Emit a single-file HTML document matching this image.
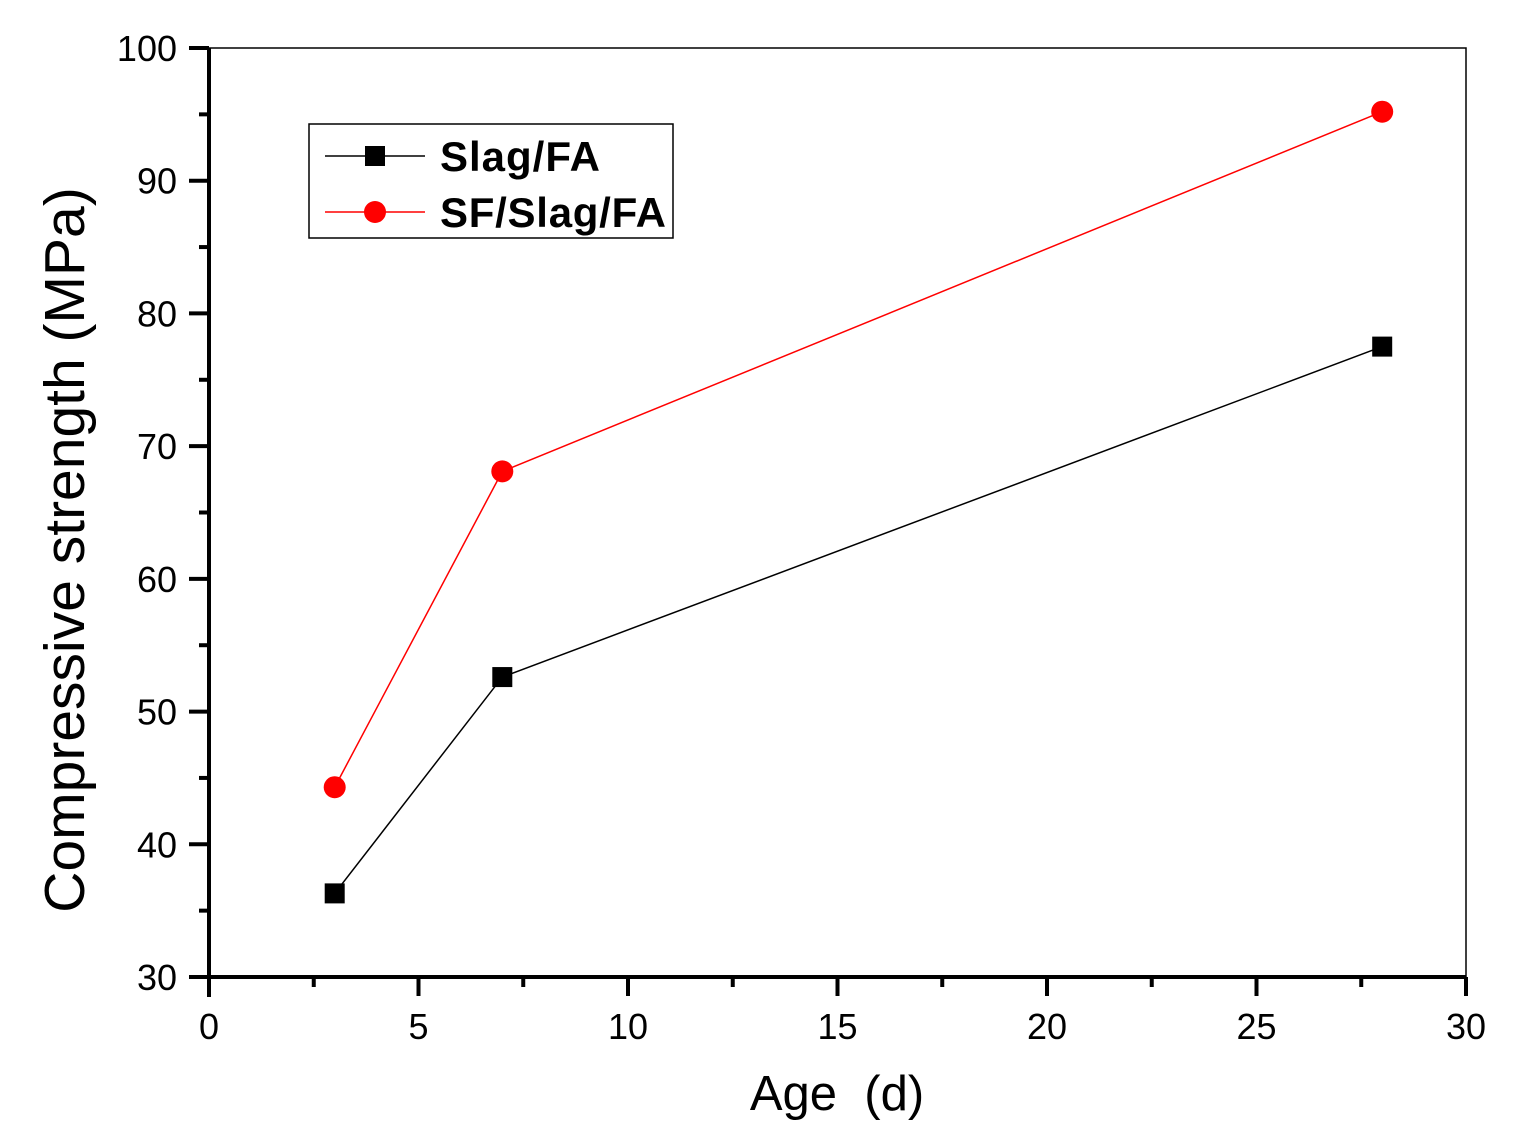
<!DOCTYPE html>
<html><head><meta charset="utf-8"><style>
html,body{margin:0;padding:0;background:#fff;}
svg text{font-family:"Liberation Sans",Arial,sans-serif;}
</style></head><body>
<svg id="chart" width="1516" height="1142" xmlns="http://www.w3.org/2000/svg">
<g id="axes"></g>
<g id="series"></g>
</svg>
<script>
const categories=[3,7,28];
const slagFA=[36.3,52.6,77.5];
const sfSlagFA=[44.3,68.1,95.2];
const xTicks=[0,5,10,15,20,25,30];
const yTicks=[30,40,50,60,70,80,90,100];
const NS="http://www.w3.org/2000/svg";
const L=209,R=1466,T=48,B=977;
const xs=v=>L+(v-0)/(30-0)*(R-L);
const ys=v=>B-(v-30)/(100-30)*(B-T);
function mk(tag,attrs,parent){const e=document.createElementNS(NS,tag);for(const k in attrs)e.setAttribute(k,attrs[k]);parent.appendChild(e);return e;}
const ax=document.getElementById('axes'),se=document.getElementById('series');
const frame=mk('rect',{x:L,y:T,width:R-L,height:B-T,fill:'none',stroke:'#000','stroke-width':1.5},ax);


const xa=mk('line',{x1:L-20,y1:B,x2:R,y2:B,stroke:'#000','stroke-width':4},ax);


const ya=mk('line',{x1:L,y1:T,x2:L,y2:B+20,stroke:'#000','stroke-width':4},ax);


xTicks.forEach((v,i)=>{
  mk('line',{x1:xs(v),y1:B,x2:xs(v),y2:B+19,stroke:'#000','stroke-width':4},ax);
  if(i<xTicks.length-1){mk('line',{x1:xs(v+2.5),y1:B,x2:xs(v+2.5),y2:B+10,stroke:'#000','stroke-width':4},ax);}
  const t=mk('text',{x:xs(v),y:B+62,'font-size':36,'text-anchor':'middle'},ax);t.textContent=v;
  
  
});
yTicks.forEach((v,i)=>{
  mk('line',{x1:L-20,y1:ys(v),x2:L,y2:ys(v),stroke:'#000','stroke-width':4},ax);
  if(i<yTicks.length-1){mk('line',{x1:L-10,y1:ys(v+5),x2:L,y2:ys(v+5),stroke:'#000','stroke-width':4},ax);}
  const t=mk('text',{x:L-32,y:ys(v)+13,'font-size':36,'text-anchor':'end'},ax);t.textContent=v;
  
  
});
const xt=mk('text',{x:837,y:1110,'font-size':49,'text-anchor':'middle'},ax);xt.textContent='Age\u00a0 (d)';


const yt=mk('text',{x:0,y:0,'font-size':57,'text-anchor':'middle',transform:'translate(84,550) rotate(-90)'},ax);yt.textContent='Compressive strength (MPa)';


function series(vals,color,shape,name){
  const pl=mk('polyline',{points:categories.map((c,i)=>xs(c)+','+ys(vals[i])).join(' '),fill:'none',stroke:color,'stroke-width':1.5},se);
  
  
  categories.forEach((c,i)=>{
    let m;
    if(shape==='sq')m=mk('rect',{x:xs(c)-10,y:ys(vals[i])-10,width:20,height:20,fill:color},se);
    else m=mk('circle',{cx:xs(c),cy:ys(vals[i]),r:11,fill:color},se);
    
    
  });
}
series(slagFA,'#000','sq','slag-fa');
series(sfSlagFA,'#ff0000','ci','sf-slag-fa');
const lg=mk('g',{},ax);


mk('rect',{x:309,y:124,width:364,height:114,fill:'#fff',stroke:'#000','stroke-width':1.5},lg);
mk('line',{x1:325,y1:156,x2:425,y2:156,stroke:'#000','stroke-width':1.5},lg);
mk('rect',{x:365,y:146,width:20,height:20,fill:'#000'},lg);
mk('line',{x1:325,y1:212,x2:425,y2:212,stroke:'#f00','stroke-width':1.5},lg);
mk('circle',{cx:375,cy:212,r:11,fill:'#f00'},lg);
const l1=mk('text',{x:440,y:171,'font-size':42,'font-weight':'bold','textLength':160},lg);l1.textContent='Slag/FA';


const l2=mk('text',{x:440,y:227,'font-size':42,'font-weight':'bold','textLength':226},lg);l2.textContent='SF/Slag/FA';


</script>
</body></html>
